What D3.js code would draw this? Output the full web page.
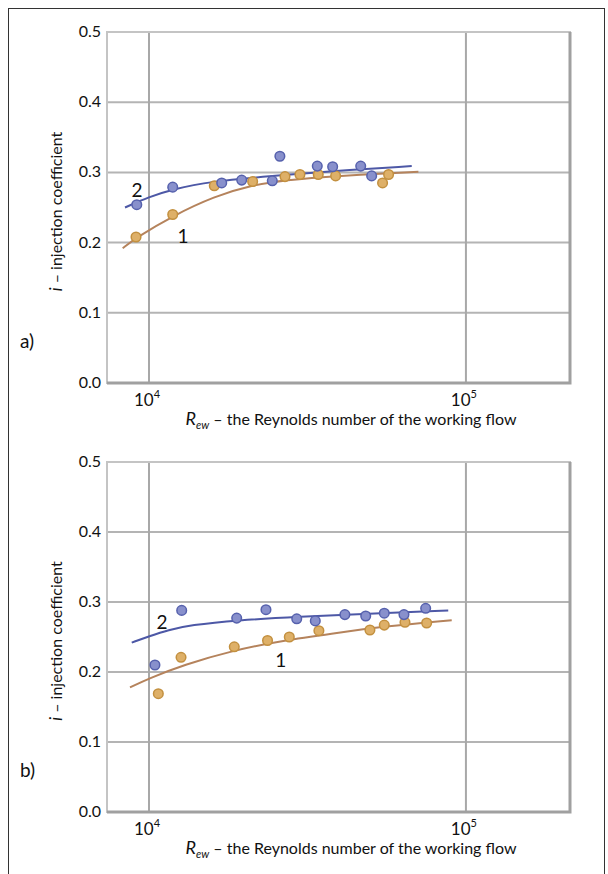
<!DOCTYPE html>
<html>
<head>
<meta charset="utf-8" />
<title>Injection coefficient</title>
<script src="https://d3js.org/d3.v7.min.js"></script>
<style>
  body { margin: 0; background: #fff; }
  svg text { font-family: Lato, "Open Sans", sans-serif; }
</style>
</head>
<body>
<svg width="608" height="874"></svg>
<script>
    // Data: Reynolds number -> injection coefficient
    // panel a), points
    var aBlueR = [9150, 11880, 16960, 19610, 24490, 25880, 33960, 37970, 46560, 50410];
    var aBlueI = [0.254, 0.279, 0.285, 0.289, 0.288, 0.323, 0.309, 0.308, 0.309, 0.295];
    var aOrangeR = [9100, 11880, 16070, 21230, 26860, 29940, 34200, 38800, 54570, 57010];
    var aOrangeI = [0.208, 0.240, 0.281, 0.287, 0.294, 0.297, 0.297, 0.295, 0.285, 0.297];
    // panel a), fitted curves
    var aBlueCurveR = [8400, 10000, 11880, 15570, 24600, 38000, 67450];
    var aBlueCurveI = [0.250, 0.265, 0.276, 0.287, 0.295, 0.302, 0.309];
    var aOrangeCurveR = [8260, 9100, 11880, 16070, 21230, 26860, 38800, 70800];
    var aOrangeCurveI = [0.192, 0.207, 0.238, 0.266, 0.282, 0.289, 0.295, 0.301];

    // panel b), points
    var bBlueR = [10440, 12680, 18910, 23390, 29250, 33470, 41500, 48280, 55250, 63750, 74640];
    var bBlueI = [0.210, 0.288, 0.277, 0.289, 0.276, 0.273, 0.282, 0.280, 0.284, 0.282, 0.291];
    var bOrangeR = [10700, 12620, 18580, 23660, 27710, 34360, 49780, 55250, 64220, 75170];
    var bOrangeI = [0.169, 0.221, 0.236, 0.245, 0.250, 0.259, 0.260, 0.267, 0.271, 0.270];
    // panel b), fitted curves
    var bBlueCurveR = [8820, 10020, 11500, 13500, 18910, 29930, 48610, 87940];
    var bBlueCurveI = [0.242, 0.251, 0.260, 0.267, 0.274, 0.279, 0.283, 0.288];
    var bOrangeCurveR = [8710, 10020, 12830, 18450, 26530, 38140, 54830, 90200];
    var bOrangeCurveI = [0.178, 0.191, 0.210, 0.231, 0.245, 0.255, 0.265, 0.274];

    var yTicks = [0.0, 0.1, 0.2, 0.3, 0.4, 0.5];
    var xTicks = [10000, 100000];
    var xTickExp = ["4", "5"];

    var svg = d3.select("svg");

    // outer frame
    svg.append("rect")
        .attr("x", 8.5).attr("y", 8.5)
        .attr("width", 596).attr("height", 880)
        .attr("fill", "none").attr("stroke", "#333").attr("stroke-width", 1);

    var blue = { fill: "#8890cc", stroke: "#5661ad", line: "#4d58a6" };
    var orange = { fill: "#deb068", stroke: "#c3903f", line: "#b5835c" };

    function zip(a, b) { return a.map(function (d, i) { return [d, b[i]]; }); }

    function drawPanel(top, bottom, p) {
        var x = d3.scaleLog().domain([7370, 213000]).range([107, 570]);
        var y = d3.scaleLinear().domain([0, 0.5]).range([bottom, top]);
        var g = svg.append("g");

        // grid
        g.selectAll(".hg").data(yTicks.slice(1, 5)).enter().append("line")
            .attr("x1", x.range()[0]).attr("x2", x.range()[1])
            .attr("y1", function (d) { return y(d); }).attr("y2", function (d) { return y(d); })
            .attr("stroke", "#b4b4b4").attr("stroke-width", 2);
        g.selectAll(".vg").data(xTicks).enter().append("line")
            .attr("x1", function (d) { return x(d); }).attr("x2", function (d) { return x(d); })
            .attr("y1", top).attr("y2", bottom)
            .attr("stroke", "#a8a8a8").attr("stroke-width", 2);

        // plot frame
        g.append("rect")
            .attr("x", x.range()[0]).attr("y", top)
            .attr("width", x.range()[1] - x.range()[0]).attr("height", bottom - top)
            .attr("fill", "none").attr("stroke", "#c4c4c4").attr("stroke-width", 2);
        g.append("path")
            .attr("d", "M" + x.range()[0] + "," + bottom + "H" + x.range()[1] + "V" + top)
            .attr("fill", "none").attr("stroke", "#a0a0a0").attr("stroke-width", 3);

        // y axis labels
        g.selectAll(".yt").data(yTicks).enter().append("text")
            .attr("x", 101).attr("y", function (d) { return y(d) + 5; })
            .attr("text-anchor", "end").attr("font-size", 16).attr("fill", "#111")
            .text(function (d) { return d.toFixed(1); });

        // x axis labels
        var xt = g.selectAll(".xt").data(xTicks).enter().append("text")
            .attr("x", function (d) { return x(d) - 2; }).attr("y", bottom + 23)
            .attr("text-anchor", "middle").attr("font-size", 17).attr("fill", "#111");
        xt.append("tspan").text("10");
        xt.append("tspan").attr("dy", -8).attr("font-size", 11)
            .text(function (d, i) { return xTickExp[i]; });

        // x title
        var xl = g.append("text").attr("x", 351).attr("y", bottom + 42)
            .attr("text-anchor", "middle").attr("font-size", 16).attr("fill", "#111");
        xl.append("tspan").attr("font-style", "italic").attr("font-size", 18).text("R");
        xl.append("tspan").attr("font-style", "italic").attr("font-size", 11).attr("dy", 4).text("ew");
        xl.append("tspan").attr("dy", -4).text(" \u2013 the Reynolds number of the working flow");

        // y title
        var yl = g.append("text")
            .attr("transform", "translate(62," + (y(0.25) + 4) + ") rotate(-90)")
            .attr("text-anchor", "middle").attr("font-size", 16).attr("fill", "#111");
        yl.append("tspan").attr("font-style", "italic").attr("font-size", 17).text("i");
        yl.append("tspan").text(" \u2013 injection coefficient");

        // panel letter
        g.append("text").attr("x", 20).attr("y", bottom - 35)
            .attr("font-size", 19).attr("fill", "#111").text(p.letter);

        // curves
        var line = d3.line()
            .x(function (d) { return x(d[0]); })
            .y(function (d) { return y(d[1]); })
            .curve(d3.curveBasis);
        [[p.orangeCurve, orange], [p.blueCurve, blue]].forEach(function (c) {
            g.append("path").datum(c[0]).attr("d", line)
                .attr("fill", "none").attr("stroke", c[1].line).attr("stroke-width", 2);
        });

        // points
        [[p.orangePts, orange], [p.bluePts, blue]].forEach(function (s) {
            g.selectAll(null).data(s[0]).enter().append("circle")
                .attr("cx", function (d) { return x(d[0]); })
                .attr("cy", function (d) { return y(d[1]); })
                .attr("r", 4.8)
                .attr("fill", s[1].fill).attr("stroke", s[1].stroke).attr("stroke-width", 1.5);
        });

        // series numbers
        p.labels.forEach(function (l) {
            g.append("text").attr("x", x(l[0])).attr("y", y(l[1]))
                .attr("text-anchor", "middle").attr("font-size", 19).attr("fill", "#111")
                .text(l[2]);
        });
    }

    drawPanel(32, 383, {
        letter: "a)",
        bluePts: zip(aBlueR, aBlueI), orangePts: zip(aOrangeR, aOrangeI),
        blueCurve: zip(aBlueCurveR, aBlueCurveI), orangeCurve: zip(aOrangeCurveR, aOrangeCurveI),
        labels: [[9170, 0.265, "2"], [12800, 0.2, "1"]]
    });

    drawPanel(462, 812, {
        letter: "b)",
        bluePts: zip(bBlueR, bBlueI), orangePts: zip(bOrangeR, bOrangeI),
        blueCurve: zip(bBlueCurveR, bBlueCurveI), orangeCurve: zip(bOrangeCurveR, bOrangeCurveI),
        labels: [[10990, 0.261, "2"], [26060, 0.207, "1"]]
    });
</script>
</body>
</html>
